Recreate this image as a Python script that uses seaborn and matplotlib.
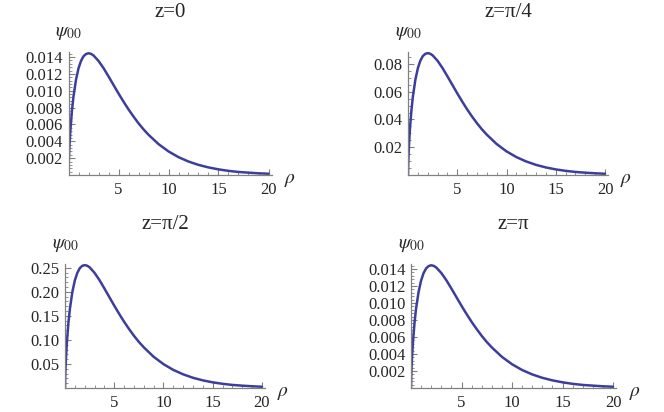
import numpy as np
import matplotlib
matplotlib.use("Agg")
import matplotlib.pyplot as plt
from matplotlib.ticker import MultipleLocator
import seaborn as sns

# values
rho = [0, 0.02, 0.05, 0.1, 0.2, 0.35, 0.5, 0.75, 1, 1.25, 1.5, 1.75, 2, 2.25, 2.5,
       3, 3.5, 4, 4.5, 5, 5.5, 6, 6.5, 7, 7.5, 8, 9, 10, 11, 12, 13, 14, 15,
       16, 17, 18, 19, 20]

psi_z0 = [0, 0.00121, 0.00224, 0.00356, 0.00552, 0.00770, 0.00934, 0.01131,
          0.01266, 0.01354, 0.01409, 0.01436, 0.01445, 0.01438, 0.01419,
          0.01354, 0.01269, 0.01171, 0.01069, 0.00968, 0.00871, 0.00779,
          0.00694, 0.00614, 0.00542, 0.00478, 0.00367, 0.00280, 0.00212,
          0.00160, 0.00120, 0.00090, 0.00067, 0.00049, 0.00036, 0.00028,
          0.00020, 0.00015]

psi_z_pi4 = [0, 0.00738, 0.01361, 0.0216, 0.03354, 0.0468, 0.05672, 0.06875,
             0.07691, 0.08227, 0.08561, 0.08727, 0.0878, 0.08736, 0.08622,
             0.08227, 0.07709, 0.07112, 0.06497, 0.05883, 0.05294, 0.04732,
             0.04214, 0.03732, 0.03293, 0.02906, 0.0223, 0.01703, 0.01291,
             0.00975, 0.00729, 0.00544, 0.00404, 0.00299, 0.0022, 0.00167,
             0.00123, 0.00088]

psi_z_pi2 = [0, 0.02146, 0.0396, 0.06285, 0.0976, 0.13618, 0.16505, 0.20006,
             0.22382, 0.2394, 0.24911, 0.25397, 0.2555, 0.25422, 0.2509,
             0.2394, 0.22433, 0.20696, 0.18907, 0.17119, 0.15407, 0.13771,
             0.12264, 0.10859, 0.09581, 0.08457, 0.0649, 0.04957, 0.03756,
             0.02836, 0.02121, 0.01584, 0.01175, 0.00869, 0.00639, 0.00485,
             0.00358, 0.00256]

psi_z_pi = [0, 0.00121, 0.00224, 0.00356, 0.00552, 0.00770, 0.00934, 0.01131,
            0.01266, 0.01354, 0.01409, 0.01436, 0.01445, 0.01438, 0.01419,
            0.01354, 0.01269, 0.01171, 0.01069, 0.00968, 0.00871, 0.00779,
            0.00694, 0.00614, 0.00542, 0.00478, 0.00367, 0.00280, 0.00212,
            0.00160, 0.00120, 0.00090, 0.00067, 0.00049, 0.00036, 0.00028,
            0.00020, 0.00015]

titles = ["z=0", "z=\u03c0/4", "z=\u03c0/2", "z=\u03c0"]

sns.set_style("white")
plt.rcParams['font.family'] = ['Liberation Serif', 'DejaVu Serif']
plt.rcParams['mathtext.fontset'] = 'stix'

W, H = 664, 412
fig = plt.figure(figsize=(W / 100, H / 100), dpi=100)

line_color = '#3d3d9c'
axis_color = '#808080'

# (left px, x-axis y px, px per rho unit, top px, y max, major, minor, label format)
panels = [
    (68.5, 175, 10.0, 52, 0.0146, 0.002, 0.0004, '{:.3f}'),
    (408, 175, 9.85, 52, 0.0886, 0.02, 0.005, '{:.2f}'),
    (65, 388, 9.85, 264, 0.2578, 0.05, 0.01, '{:.2f}'),
    (411, 388, 10.1, 264, 0.0146, 0.002, 0.0004, '{:.3f}'),
]
series = [psi_z0, psi_z_pi4, psi_z_pi2, psi_z_pi]
xmax = 20.3

for (x0, y0, ppu, ytop, ymax, major, minor, fmt), psi, title in zip(panels, series, titles):
    rect = [x0 / W, 1 - y0 / H, ppu * xmax / W, (y0 - ytop) / H]
    ax = fig.add_axes(rect)
    sns.lineplot(x=rho, y=psi, ax=ax, color=line_color, lw=1.8, sort=False)
    ax.set_xlim(0, xmax)
    ax.set_ylim(0, ymax)

    for side in ['top', 'right']:
        ax.spines[side].set_visible(False)
    for side in ['left', 'bottom']:
        ax.spines[side].set_color(axis_color)
        ax.spines[side].set_linewidth(0.9)

    xt = [5, 10, 15, 20]
    ax.set_xticks(xt)
    ax.set_xticklabels([f"{t}" for t in xt])
    ax.xaxis.set_minor_locator(MultipleLocator(1))
    yt = [t for t in np.arange(major, ymax, major) if t <= ymax]
    ax.set_yticks(yt)
    ax.set_yticklabels([fmt.format(t) for t in yt])
    ax.yaxis.set_minor_locator(MultipleLocator(minor))

    ax.tick_params(which='both', bottom=True, left=True, top=False, right=False)
    ax.tick_params(which='major', direction='in', length=4.5, width=0.8,
                   color=axis_color, labelsize=12, pad=4)
    ax.tick_params(which='minor', direction='in', length=2.5, width=0.6,
                   color=axis_color)
    ax.tick_params(axis='x', which='major', pad=5)

    ax.set_xlabel('')
    ax.set_ylabel('')
    ax.set_title(title, fontsize=15, pad=25)
    ax.annotate(r'$\psi_{00}$', xy=(0, 1), xycoords='axes fraction',
                xytext=(0, 7), textcoords='offset points',
                ha='center', va='bottom', fontsize=14)
    ax.annotate(r'$\rho$', xy=(1, 0), xycoords='axes fraction',
                xytext=(9, -4), textcoords='offset points',
                ha='left', va='center', fontsize=14)

fig.savefig("out.png", dpi=100)
